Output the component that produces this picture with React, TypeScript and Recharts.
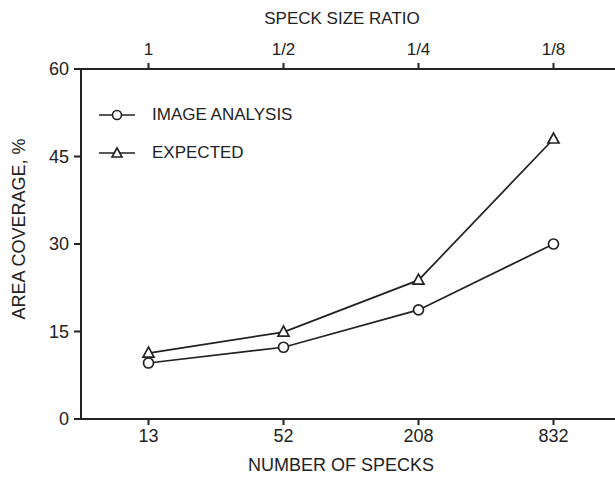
import React from 'react';
import { LineChart, Line, XAxis, YAxis } from 'recharts';

// values
const specks = ['13', '52', '208', '832'];
const sizeRatio = ['1', '1/2', '1/4', '1/8'];
const imageAnalysis = [9.6, 12.3, 18.7, 30.0];
const expected = [11.3, 14.9, 23.8, 48.0];
const yTicks = [0, 15, 30, 45, 60];

const FONT = '"Liberation Sans", Arial, sans-serif';
const INK = '#222';

const chartData = specks.map((s, i) => ({
  idx: i,
  image: imageAnalysis[i],
  expected: expected[i],
}));

const TriangleDot = (props: any) => {
  const { cx, cy, index } = props;
  if (cx == null || cy == null) return null;
  return (
    <path
      key={`tri-${index}`}
      d={`M${cx},${cy - 6} L${cx - 5.5},${cy + 4} L${cx + 5.5},${cy + 4} Z`}
      fill="#fff"
      stroke={INK}
      strokeWidth={1.7}
    />
  );
};

const LegendIcon = ({ kind }: { kind: 'circle' | 'triangle' }) => (
  <svg width={38} height={14} style={{ marginRight: 16 }}>
    <line x1={1} y1={7} x2={37} y2={7} stroke={INK} strokeWidth={1.6} />
    {kind === 'circle' ? (
      <circle cx={19} cy={7} r={4.5} fill="#fff" stroke={INK} strokeWidth={1.6} />
    ) : (
      <path d="M19,2 L14,11 L24,11 Z" fill="#fff" stroke={INK} strokeWidth={1.6} />
    )}
  </svg>
);

// legend drawn as an overlay so the chart keeps its full plot width
const legendItems = [
  { kind: 'circle' as const, label: 'IMAGE ANALYSIS' },
  { kind: 'triangle' as const, label: 'EXPECTED' },
];

export default function App() {
  return (
    <div
      style={{
        position: 'fixed',
        left: 0,
        top: 0,
        width: 615,
        height: 477,
        overflow: 'hidden',
        background: '#fff',
      }}
    >
      <LineChart
        width={700}
        height={477}
        data={chartData}
        margin={{ top: 29, right: 79, left: 0, bottom: 0 }}
      >
        <XAxis
          xAxisId="bottom"
          dataKey="idx"
          type="number"
          domain={[-0.5, 3.5]}
          ticks={[0, 1, 2, 3]}
          tickFormatter={(v: number) => specks[v]}
          orientation="bottom"
          height={58}
          tickSize={6}
          tickMargin={4}
          stroke={INK}
          strokeWidth={2}
          tick={{ fill: INK, fontSize: 18, fontFamily: FONT }}
          label={{
            content: () => (
              <text
                x={341}
                y={471}
                textAnchor="middle"
                fill={INK}
                fontSize={18}
                fontFamily={FONT}
              >
                NUMBER OF SPECKS
              </text>
            ),
          }}
        />
        <XAxis
          xAxisId="top"
          dataKey="idx"
          type="number"
          domain={[-0.5, 3.5]}
          ticks={[0, 1, 2, 3]}
          tickFormatter={(v: number) => sizeRatio[v]}
          orientation="top"
          height={40}
          tickSize={6}
          tickMargin={8}
          stroke={INK}
          strokeWidth={2}
          tick={{ fill: INK, fontSize: 17, fontFamily: FONT }}
          label={{
            content: () => (
              <text
                x={342}
                y={24}
                textAnchor="middle"
                fill={INK}
                fontSize={17}
                fontFamily={FONT}
              >
                SPECK SIZE RATIO
              </text>
            ),
          }}
        />
        <YAxis
          domain={[0, 60]}
          ticks={yTicks}
          width={81}
          tickSize={7}
          tickMargin={5}
          stroke={INK}
          strokeWidth={2}
          tick={{ fill: INK, fontSize: 18, fontFamily: FONT }}
          label={{
            content: () => (
              <text
                x={25}
                y={229}
                transform="rotate(-90 25 229)"
                textAnchor="middle"
                fill={INK}
                fontSize={18}
                fontFamily={FONT}
              >
                AREA COVERAGE, %
              </text>
            ),
          }}
        />
        <Line
          xAxisId="bottom"
          dataKey="image"
          name="IMAGE ANALYSIS"
          stroke={INK}
          strokeWidth={1.7}
          dot={{ r: 5, fill: '#fff', stroke: INK, strokeWidth: 1.7 }}
          isAnimationActive={false}
        />
        <Line
          xAxisId="bottom"
          dataKey="expected"
          name="EXPECTED"
          stroke={INK}
          strokeWidth={1.7}
          dot={TriangleDot}
          isAnimationActive={false}
        />
      </LineChart>
      <div
        style={{
          position: 'absolute',
          left: 98,
          top: 96,
          fontFamily: FONT,
          fontSize: 17,
          color: INK,
        }}
      >
        {legendItems.map((item) => (
          <div
            key={item.label}
            style={{ display: 'flex', alignItems: 'center', height: 38 }}
          >
            <LegendIcon kind={item.kind} />
            <span>{item.label}</span>
          </div>
        ))}
      </div>
    </div>
  );
}
